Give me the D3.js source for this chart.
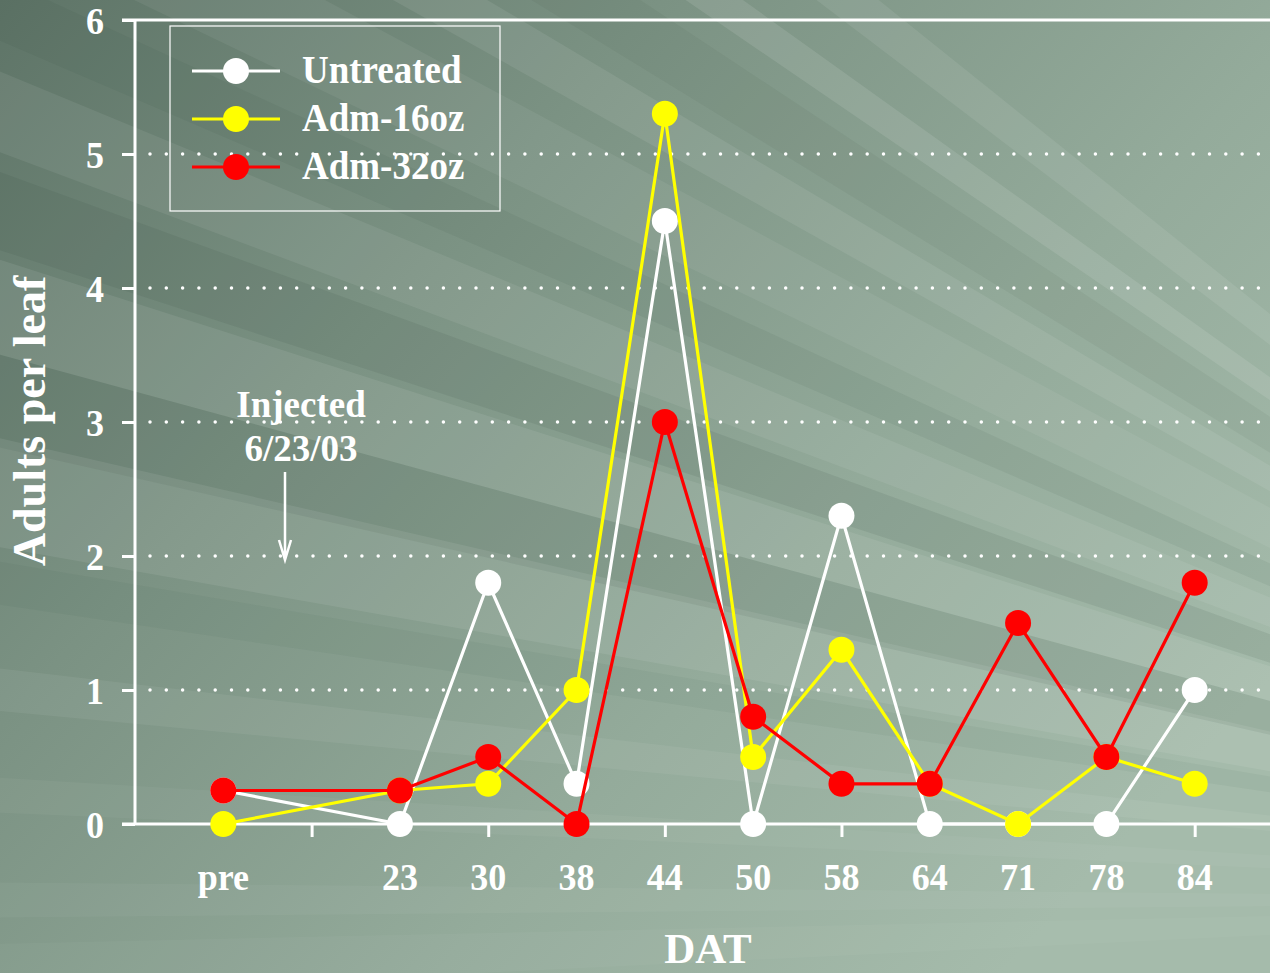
<!DOCTYPE html>
<meta charset="utf-8">
<script src="https://d3js.org/d3.v7.min.js"></script>
<style>
    body { margin: 0; overflow: hidden; }
    text { font-family: "Liberation Serif", "Times New Roman", serif; font-weight: bold; fill: white; }
</style>
<div id="vis"></div>
<script>

    // data
    var categories = ["pre", "", "23", "30", "38", "44", "50", "58", "64", "71", "78", "84"];
    var seriesNames = ["Untreated", "Adm-16oz", "Adm-32oz"];
    var seriesColors = ["#ffffff", "#ffff00", "#ff0000"];
    var untreated = [0.25, null, 0, 1.8, 0.3, 4.5, 0, 2.3, 0, 0, 0, 1.0];
    var adm16 = [0, null, 0.25, 0.3, 1.0, 5.3, 0.5, 1.3, 0.3, 0, 0.5, 0.3];
    var adm32 = [0.25, null, 0.25, 0.5, 0, 3.0, 0.8, 0.3, 0.3, 1.5, 0.5, 1.8];
    var yTicks = [0, 1, 2, 3, 4, 5, 6];
    var gridValues = [1, 2, 3, 4, 5];

    // background streaks (decorative): angle in degrees above the horizon seen from the focal point, width, opacity, light/dark
    var rays = [
        [38, 1.5, 0.08, 1], [35, 1.2, 0.10, 1], [32.5, 2, 0.06, 0], [30, 1.5, 0.08, 1],
        [27, 2.5, 0.06, 1], [24, 1.5, 0.07, 0], [21.5, 2, 0.07, 1], [19, 2, 0.10, 0],
        [16.5, 2.5, 0.08, 1], [14, 2.5, 0.10, 0], [11.5, 3, 0.08, 1], [9, 1.2, 0.05, 0],
        [6, 1.2, 0.06, 1], [3, 1, 0.04, 1], [0, 1, 0.04, 1], [-2, 1.5, 0.03, 1]
    ];

    var W = 1270, H = 973;

    var svg = d3.select("#vis")
        .append("svg")
        .attr("width", W)
        .attr("height", H);

    // background gradient
    var defs = svg.append("defs");
    var grad = defs.append("linearGradient")
        .attr("id", "bg")
        .attr("x1", 0).attr("y1", 0).attr("x2", 1).attr("y2", 0.7);
    grad.append("stop").attr("offset", "0%").attr("stop-color", "#5e7467");
    grad.append("stop").attr("offset", "35%").attr("stop-color", "#7b9283");
    grad.append("stop").attr("offset", "70%").attr("stop-color", "#94ab9b");
    grad.append("stop").attr("offset", "100%").attr("stop-color", "#a5bbab");
    svg.append("rect").attr("width", W).attr("height", H).attr("fill", "url(#bg)");

    var fx = 2000, fy = 900, far = 3200;
    svg.append("g").selectAll("path")
        .data(rays)
        .enter()
        .append("path")
        .attr("d", function (d) {
            var a1 = (180 + d[0] - d[1] / 2) * Math.PI / 180;
            var a2 = (180 + d[0] + d[1] / 2) * Math.PI / 180;
            return "M" + fx + "," + fy +
                "L" + (fx + far * Math.cos(a1)) + "," + (fy + far * Math.sin(a1)) +
                "L" + (fx + far * Math.cos(a2)) + "," + (fy + far * Math.sin(a2)) + "Z";
        })
        .attr("fill", function (d) { return d[3] ? "#ffffff" : "#2e463a"; })
        .attr("opacity", function (d) { return d[2]; });

    // scales
    var x = d3.scalePoint()
        .domain(categories)
        .range([135, 1283])
        .padding(1);
    var y = d3.scaleLinear()
        .domain([0, 6])
        .range([824, 20]);

    // dotted grid
    svg.append("g").selectAll("line")
        .data(gridValues)
        .enter()
        .append("line")
        .attr("x1", 150).attr("x2", W)
        .attr("y1", function (d) { return y(d); })
        .attr("y2", function (d) { return y(d); })
        .attr("stroke", "white")
        .attr("stroke-width", 3.5)
        .attr("stroke-linecap", "round")
        .attr("stroke-dasharray", "0,16.3");

    // y axis
    var yAxis = svg.append("g")
        .attr("transform", "translate(135,0)")
        .call(d3.axisLeft(y).tickValues(yTicks).tickSize(13).tickFormat(""));
    yAxis.selectAll("line, path").attr("stroke", "white").attr("stroke-width", 3);
    yAxis.select(".domain").attr("d", "M0," + y(6) + "V" + y(0));

    svg.append("g").selectAll("text")
        .data(yTicks)
        .enter()
        .append("text")
        .attr("transform", function (d) { return "translate(104," + (y(d) + 14) + ") scale(1,1.05)"; })
        .attr("text-anchor", "end")
        .style("font-size", "36px")
        .text(function (d) { return d; });

    // top frame line
    svg.append("line")
        .attr("x1", 122).attr("x2", W)
        .attr("y1", y(6)).attr("y2", y(6))
        .attr("stroke", "white").attr("stroke-width", 3);

    // x axis
    var xAxis = svg.append("g")
        .attr("transform", "translate(0," + y(0) + ")")
        .call(d3.axisBottom(x).tickSize(13).tickFormat(""));
    xAxis.select(".domain").attr("d", "M122,0H" + W).attr("stroke", "white").attr("stroke-width", 3);
    xAxis.selectAll(".tick line")
        .attr("stroke", "white").attr("stroke-width", 3)
        .attr("opacity", function (d, i) { return i % 2 == 1 ? 1 : 0; });

    svg.append("g").selectAll("text")
        .data(categories)
        .enter()
        .append("text")
        .attr("transform", function (d) { return "translate(" + x(d) + ",890) scale(1,1.04)"; })
        .attr("text-anchor", "middle")
        .style("font-size", "36px")
        .text(function (d) { return d; });

    // axis titles
    svg.append("text")
        .attr("x", 708).attr("y", 963)
        .attr("text-anchor", "middle")
        .style("font-size", "43px")
        .text("DAT");
    svg.append("text")
        .attr("transform", "translate(45,421) rotate(-90)")
        .attr("text-anchor", "middle")
        .style("font-size", "46px")
        .text("Adults per leaf");

    // annotation
    svg.append("text")
        .attr("x", 301).attr("y", 417)
        .attr("text-anchor", "middle")
        .style("font-size", "37px")
        .text("Injected");
    svg.append("text")
        .attr("x", 301).attr("y", 461)
        .attr("text-anchor", "middle")
        .style("font-size", "37px")
        .text("6/23/03");
    svg.append("path")
        .attr("d", "M285,472V560M279,540L285,560L291,540")
        .attr("fill", "none")
        .attr("stroke", "white")
        .attr("stroke-width", 2.5);

    // series: white, then yellow, then red on top
    var series = [untreated, adm16, adm32];
    series.forEach(function (vals, s) {
        var pts = vals.map(function (v, i) { return { v: v, c: categories[i] }; })
            .filter(function (d) { return d.v != null; });
        var g = svg.append("g");
        g.append("path")
            .datum(pts)
            .attr("d", d3.line()
                .x(function (d) { return x(d.c); })
                .y(function (d) { return y(d.v); }))
            .attr("fill", "none")
            .attr("stroke", seriesColors[s])
            .attr("stroke-width", 3.2);
        g.selectAll("circle")
            .data(pts)
            .enter()
            .append("circle")
            .attr("cx", function (d) { return x(d.c); })
            .attr("cy", function (d) { return y(d.v); })
            .attr("r", 13)
            .attr("fill", seriesColors[s]);
    });

    // legend
    var legend = svg.append("g");
    legend.append("rect")
        .attr("x", 170).attr("y", 26)
        .attr("width", 330).attr("height", 185)
        .attr("fill", "none")
        .attr("stroke", "white")
        .attr("stroke-width", 1.2);
    var rows = legend.selectAll(".row")
        .data(seriesNames)
        .enter()
        .append("g")
        .attr("transform", function (d, i) { return "translate(0," + (71 + i * 48) + ")"; });
    rows.append("line")
        .attr("x1", 192).attr("x2", 280)
        .attr("stroke", function (d, i) { return seriesColors[i]; })
        .attr("stroke-width", 3.2);
    rows.append("circle")
        .attr("cx", 236)
        .attr("r", 13)
        .attr("fill", function (d, i) { return seriesColors[i]; });
    rows.append("text")
        .attr("transform", "translate(302,12) scale(1,1.08)")
        .style("font-size", "37px")
        .text(function (d) { return d; });

</script>
